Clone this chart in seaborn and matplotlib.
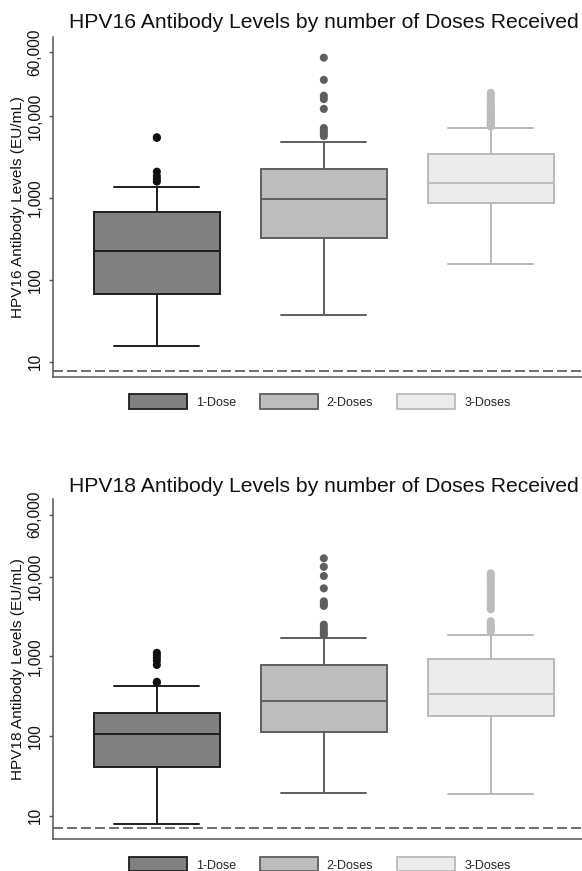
import matplotlib
matplotlib.use("Agg")
import matplotlib.pyplot as plt
from matplotlib.patches import Patch
from matplotlib.ticker import NullLocator
import numpy as np
import pandas as pd
import seaborn as sns

sns.set_style("white")
plt.rcParams["font.family"] = ["Liberation Sans", "DejaVu Sans"]

doses = ["1-Dose", "2-Doses", "3-Doses"]

# HPV16 box summaries (EU/mL)
hpv16_whislo = [15.6, 37, 157]
hpv16_q1 = [68, 327, 859]
hpv16_median = [225, 962, 1507]
hpv16_q3 = [667, 2250, 3470]
hpv16_whishi = [1346, 4850, 7130]
hpv16_out_1dose = [5500, 5400, 2090, 1850, 1700, 1580]
hpv16_out_2doses = [51500, 27600, 17700, 16100, 12200, 7130, 6560, 6110, 5700]
hpv16_out_3doses = [19200, 17800, 16500, 15500, 14500, 13600, 12900, 12200, 11600,
                    11000, 10500, 10000, 9600, 9200, 8800, 8500, 8200, 7900, 7600, 7400]
hpv16_lloq = 7.7

# HPV18 box summaries (EU/mL)
hpv18_whislo = [7.87, 19.5, 18.6]
hpv18_q1 = [41.3, 113, 180]
hpv18_median = [105, 278, 337]
hpv18_q3 = [197, 773, 927]
hpv18_whishi = [426, 1718, 1872]
hpv18_out_1dose = [1110, 1040, 960, 880, 780, 480, 465]
hpv18_out_2doses = [17000, 13300, 10200, 7140, 4900, 4600, 4300, 2500, 2300, 2100, 1950, 1850]
hpv18_out_3doses = [11000, 10400, 9800, 9200, 8500, 7800, 7100, 6500, 6000, 5500, 5000,
                    4600, 4200, 3900, 2750, 2550, 2400, 2250, 2150, 2050]
hpv18_lloq = 7.07

tick_values = [10, 100, 1000, 10000, 60000]
tick_labels = ["10", "100", "1,000", "10,000", "60,000"]

fill_colors = ["#808080", "#bdbdbd", "#ececec"]
edge_colors = ["#1e1e1e", "#5e5e5e", "#bababa"]
flier_colors = {"1-Dose": "#111111", "2-Doses": "#5e5e5e", "3-Doses": "#bcbcbc"}


def draw_panel(ax, lo, q1, med, q3, hi, outliers, lloq, ylim, title, ylabel, pad):
    ax.set_yscale("log")
    stats = [dict(med=med[i], q1=q1[i], q3=q3[i], whislo=lo[i], whishi=hi[i])
             for i in range(3)]
    parts = ax.bxp(stats, positions=[0, 1, 2], widths=0.755, capwidths=0.51,
                   patch_artist=True, showfliers=False)
    for i in range(3):
        parts["boxes"][i].set(facecolor=fill_colors[i], edgecolor=edge_colors[i], linewidth=1.4)
        parts["medians"][i].set(color=edge_colors[i], linewidth=1.4)
        for ln in parts["whiskers"][2 * i:2 * i + 2] + parts["caps"][2 * i:2 * i + 2]:
            ln.set(color=edge_colors[i], linewidth=1.4)

    df = pd.DataFrame({
        "dose": sum([[d] * len(o) for d, o in zip(doses, outliers)], []),
        "value": sum(outliers, []),
    })
    sns.stripplot(data=df, x="dose", y="value", hue="dose", order=doses, hue_order=doses,
                  palette=flier_colors, jitter=False, size=5.8, linewidth=0,
                  ax=ax, legend=False, zorder=3)

    ax.axhline(lloq, color="#555555", lw=1.2, dashes=(6, 2.4), zorder=1)

    ax.set_xlim(-0.624, 2.624)
    ax.set_ylim(*ylim)
    ax.set_xticks([])
    ax.set_xlabel("")
    ax.yaxis.set_minor_locator(NullLocator())
    ax.set_yticks(tick_values, tick_labels, rotation=90, va="center")
    ax.tick_params(axis="y", left=True, length=3.2, width=1, color="#555555",
                   labelsize=11.2, pad=4, labelcolor="#111111")
    ax.set_ylabel(ylabel, fontsize=11.1, labelpad=2, color="#111111")
    ax.set_title(title, fontsize=15.2, pad=pad, color="#111111")
    for side in ["top", "right"]:
        ax.spines[side].set_visible(False)
    for side in ["left", "bottom"]:
        ax.spines[side].set_color("#555555")
        ax.spines[side].set_linewidth(1.1)


fig = plt.figure(figsize=(5.82, 8.71), dpi=100)
ax1 = fig.add_axes([0.0905, 0.5675, 0.9318, 0.3897])
ax2 = fig.add_axes([0.0905, 0.0364, 0.9318, 0.3907])

draw_panel(ax1, hpv16_whislo, hpv16_q1, hpv16_median, hpv16_q3, hpv16_whishi,
           [hpv16_out_1dose, hpv16_out_2doses, hpv16_out_3doses], hpv16_lloq,
           (6.56, 91400), "HPV16 Antibody Levels by number of Doses Received",
           "HPV16 Antibody Levels (EU/mL)", 6.5)
draw_panel(ax2, hpv18_whislo, hpv18_q1, hpv18_median, hpv18_q3, hpv18_whishi,
           [hpv18_out_1dose, hpv18_out_2doses, hpv18_out_3doses], hpv18_lloq,
           (5.06, 94400), "HPV18 Antibody Levels by number of Doses Received",
           "HPV18 Antibody Levels (EU/mL)", 5.3)

handles = [Patch(facecolor=fill_colors[i], edgecolor=edge_colors[i], linewidth=1.3)
           for i in range(3)]
for ycen in [0.539, 0.0075]:
    fig.legend(handles, doses, loc="center", bbox_to_anchor=(0.549, ycen), ncol=3,
               frameon=False, fontsize=9, handlelength=4.65, handleheight=1.36,
               columnspacing=1.9, handletextpad=0.72, borderpad=0)

fig.savefig("out.png", dpi=100)
